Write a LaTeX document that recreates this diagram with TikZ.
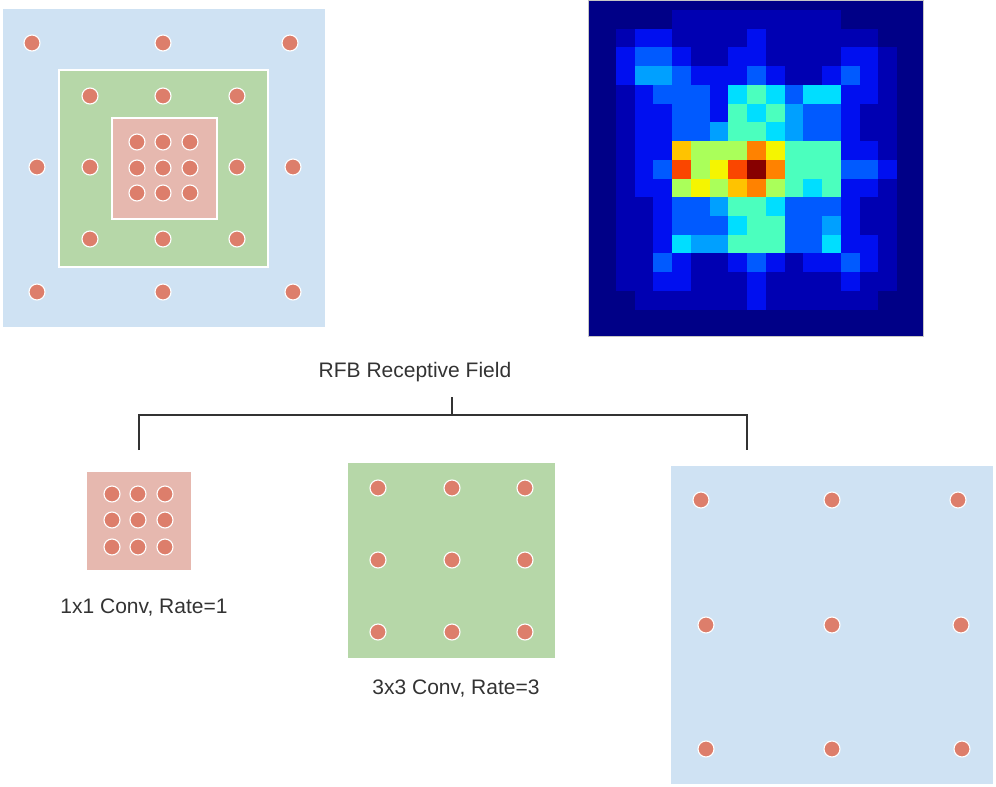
\documentclass[tikz,border=0pt]{standalone}
\usepackage{fontspec}
\setmainfont{Liberation Sans}
\usepackage{xcolor}
\usepackage{tikz}
\usetikzlibrary{positioning, calc}
\definecolor{rfbblue}{HTML}{CFE2F3}
\definecolor{rfbgreen}{HTML}{B6D7A8}
\definecolor{rfbpink}{HTML}{E6B8AF}
\definecolor{rfbdot}{HTML}{DD7E6B}
\definecolor{rfbtext}{HTML}{333333}
% jet levels for the heat map
\definecolor{h0}{RGB}{0,0,135}
\definecolor{h1}{RGB}{0,0,178}
\definecolor{h2}{RGB}{0,15,240}
\definecolor{h3}{RGB}{0,90,255}
\definecolor{h4}{RGB}{0,160,255}
\definecolor{h5}{RGB}{0,222,255}
\definecolor{h6}{RGB}{75,255,190}
\definecolor{h7}{RGB}{170,255,90}
\definecolor{h8}{RGB}{245,245,0}
\definecolor{h9}{RGB}{255,195,0}
\definecolor{h10}{RGB}{255,130,0}
\definecolor{h11}{RGB}{250,70,0}
\definecolor{h12}{RGB}{135,0,0}

\begin{document}
\begin{tikzpicture}[
  x=1pt, y=-1pt,
  field/.style={rectangle, inner sep=0pt, draw=white, line width=1.2pt},
  dot/.style={circle, fill=rfbdot, draw=white, line width=1.1pt,
    minimum size=16pt, inner sep=0pt},
  caption/.style={font=\fontsize{21}{24}\selectfont, text=rfbtext,
    anchor=base, inner sep=0pt},
  bracket/.style={draw=rfbtext, line width=1.6pt}
]
\useasboundingbox (0,0) rectangle (996,787);

% Stacked receptive fields
\node[field, fill=rfbblue, draw=none, minimum width=322pt,
      minimum height=318pt] (stackL) at (164,168) {};
\node[field, fill=rfbgreen, minimum width=209pt,
      minimum height=197pt] (stackM) at (163.5,168.5) {};
\node[field, fill=rfbpink, minimum width=105pt,
      minimum height=101pt] (stackS) at (164.5,168.5) {};
\foreach \px/\py [count=\i] in {32/43, 163/43, 290/43, 37/167, 293/167,
    37/292, 163/292, 293/292}
  \node[dot] (sL\i) at (\px,\py) {};
\foreach \px/\py [count=\i] in {90/96, 163/96, 237/96, 90/167, 237/167,
    90/239, 163/239, 237/239}
  \node[dot] (sM\i) at (\px,\py) {};
\foreach \py [count=\j] in {142,168,193}
  \foreach \px [count=\i] in {137,163,190}
    \node[dot] (sS\j\i) at (\px,\py) {};

% Heat map
\node[rectangle, fill=h0, draw=gray!45, line width=0.8pt, inner sep=0pt,
      minimum width=335pt, minimum height=336pt] (heat) at (755.5,168) {};
\foreach \row [count=\r from 0] in {
  {0,0,0,0,1,1,1,1,1,1,1,1,1,0,0,0,0},
  {0,1,2,2,1,1,1,1,2,1,1,1,1,1,1,0,0},
  {0,2,3,3,2,1,1,2,2,1,1,1,1,2,2,1,0},
  {0,2,4,4,3,2,2,2,3,2,1,1,2,3,2,1,0},
  {0,1,2,3,3,3,2,5,6,5,3,5,5,2,2,1,0},
  {0,1,2,2,3,3,2,6,5,6,4,3,3,2,1,1,0},
  {0,1,2,2,3,3,4,6,6,5,4,3,3,2,1,1,0},
  {0,1,2,2,9,7,7,7,10,8,6,6,6,2,2,1,0},
  {0,1,2,3,11,7,8,11,12,10,6,6,6,3,3,2,0},
  {0,1,2,2,7,8,7,9,10,7,6,5,6,2,2,1,0},
  {0,1,1,2,3,3,4,6,6,5,3,3,3,2,1,1,0},
  {0,1,1,2,3,3,3,5,6,6,3,3,4,2,1,1,0},
  {0,1,1,2,5,4,4,6,6,6,3,3,5,2,2,1,0},
  {0,1,1,3,2,1,1,2,3,2,1,2,2,3,2,1,0},
  {0,1,1,2,2,1,1,1,2,1,1,1,1,2,1,1,0},
  {0,0,1,1,1,1,1,1,2,1,1,1,1,1,1,0,0},
  {0,0,0,0,0,0,0,0,0,0,0,0,0,0,0,0,0}}
  \foreach \v [count=\c from 0] in \row
    \fill[h\v] ({597.3+\c*18.73},{10+\r*18.73}) rectangle ++(18.8,18.8);

% Title and bracket
\node[caption] (title) at (415,377) {RFB Receptive Field};
\coordinate (tickTop) at (452,397);
\coordinate (brL) at (139,415);
\coordinate (brR) at (747,415);
\coordinate (dropL) at (139,450);
\coordinate (dropR) at (747,450);
\draw[bracket] (tickTop) -- (tickTop |- brL);
\draw[bracket] (dropL) -- (brL) -- (brR) -- (dropR);

% Rate 1 branch
\node[field, fill=rfbpink, draw=none, minimum width=104pt,
      minimum height=98pt] (conv1) at (139,521) {};
\foreach \py [count=\j] in {494,520,547}
  \foreach \px [count=\i] in {112,138,165}
    \node[dot] (c1\j\i) at (\px,\py) {};
\node[caption] (lab1) at (144,613) {1x1 Conv, Rate=1};

% Rate 3 branch
\node[field, fill=rfbgreen, draw=none, minimum width=207pt,
      minimum height=195pt] (conv3) at (451.5,560.5) {};
\foreach \py [count=\j] in {488,560,632}
  \foreach \px [count=\i] in {378,452,525}
    \node[dot] (c3\j\i) at (\px,\py) {};
\node[caption] (lab3) at (456,694) {3x3 Conv, Rate=3};

% Rate 5 branch
\node[field, fill=rfbblue, draw=none, minimum width=322pt,
      minimum height=318pt] (conv5) at (832,625) {};
\foreach \px/\py [count=\i] in {701/500, 832/500, 958/500, 706/625,
    832/625, 961/625, 706/749, 832/749, 962/749}
  \node[dot] (c5\i) at (\px,\py) {};
\end{tikzpicture}
\end{document}
